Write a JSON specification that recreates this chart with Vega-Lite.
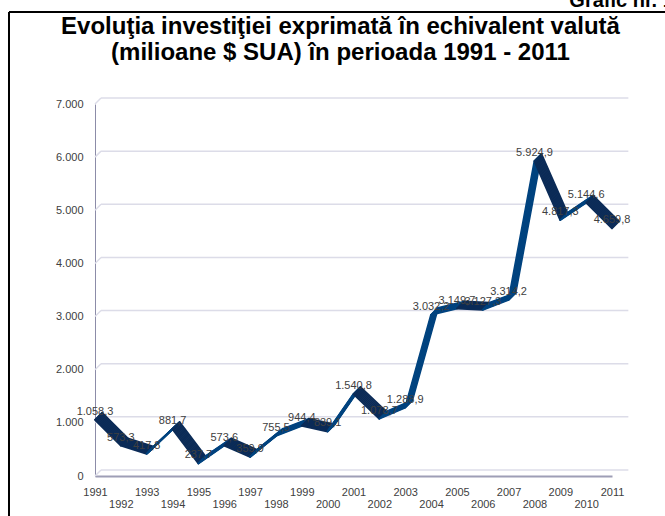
{
  "$schema": "https://vega.github.io/schema/vega-lite/v6.json",
  "width": 517,
  "height": 372,
  "autosize": "none",
  "padding": {"left": 95, "top": 104, "right": 53, "bottom": 40},
  "background": "white",
  "config": {
    "locale": {"number": {"decimal": ",", "thousands": ".", "grouping": [3], "currency": ["", " $"]}},
    "view": {"stroke": null},
    "font": "Liberation Sans"
  },
  "title": {
    "text": ["Evoluţia investiţiei exprimată în echivalent valută", "(milioane $ SUA) în perioada 1991 - 2011"],
    "anchor": "middle",
    "frame": "group",
    "orient": "top",
    "offset": -74,
    "dx": -13,
    "baseline": "top",
    "font": "Liberation Sans",
    "fontSize": 24,
    "fontWeight": "bold",
    "color": "#000000",
    "lineHeight": 26
  },
  "datasets": {
    "inv": [
      {"year": 1991, "value": 1058.3},
      {"year": 1992, "value": 573.3},
      {"year": 1993, "value": 417.8},
      {"year": 1994, "value": 881.7},
      {"year": 1995, "value": 237.7},
      {"year": 1996, "value": 573.6},
      {"year": 1997, "value": 359.9},
      {"year": 1998, "value": 755.5},
      {"year": 1999, "value": 944.4},
      {"year": 2000, "value": 839.1},
      {"year": 2001, "value": 1540.8},
      {"year": 2002, "value": 1078.7},
      {"year": 2003, "value": 1288.9},
      {"year": 2004, "value": 3032.2},
      {"year": 2005, "value": 3149.7},
      {"year": 2006, "value": 3127.3},
      {"year": 2007, "value": 3314.2},
      {"year": 2008, "value": 5924.9},
      {"year": 2009, "value": 4817.3},
      {"year": 2010, "value": 5144.6},
      {"year": 2011, "value": 4659.8}
    ],
    "grid": [
      {"value": 0}, {"value": 1000}, {"value": 2000}, {"value": 3000},
      {"value": 4000}, {"value": 5000}, {"value": 6000}, {"value": 7000}
    ]
  },
  "resolve": {"axis": {"x": "independent"}},
  "layer": [
    {
      "layer": [
        {
          "data": {"name": "grid"},
          "mark": {"type": "rule", "color": "#dcdce8", "strokeWidth": 1.5, "xOffset": 6, "yOffset": -6, "x2Offset": 6, "y2Offset": -6},
          "encoding": {
            "y": {"field": "value", "type": "quantitative"},
            "x": {"datum": 1991, "type": "quantitative"},
            "x2": {"datum": 2011.4}
          }
        },
        {
          "data": {"name": "grid"},
          "mark": {"type": "rule", "color": "#dcdce8", "strokeWidth": 1.5, "x2Offset": 6, "y2Offset": -6},
          "encoding": {
            "y": {"field": "value", "type": "quantitative"},
            "y2": {"field": "value"},
            "x": {"datum": 1991, "type": "quantitative"},
            "x2": {"datum": 1991}
          }
        },
        {
          "data": {"values": [{"part": "frame"}]},
          "mark": {"type": "rule", "color": "#000000", "strokeWidth": 2},
          "encoding": {
            "x": {"datum": 1987.673, "type": "quantitative"},
            "y": {"datum": 8731.2, "type": "quantitative"},
            "y2": {"datum": -1016}
          }
        },
        {
          "data": {"values": [{"part": "frame"}]},
          "mark": {"type": "rule", "color": "#000000", "strokeWidth": 2},
          "encoding": {
            "x": {"datum": 1987.673, "type": "quantitative"},
            "x2": {"datum": 2013.63},
            "y": {"datum": 8731.2, "type": "quantitative"}
          }
        },
        {
          "data": {"name": "inv"},
          "transform": [
            {"window": [{"op": "lead", "field": "year", "as": "year2"}, {"op": "lead", "field": "value", "as": "value2"}], "sort": [{"field": "year", "order": "ascending"}]},
            {"filter": "datum.year2 != null"}
          ],
          "encoding": {
            "x": {"field": "year", "type": "quantitative"},
            "x2": {"field": "year2"},
            "y": {"field": "value", "type": "quantitative"},
            "y2": {"field": "value2"},
            "color": {"condition": {"test": "datum.value2 < datum.value", "value": "#0b2b57"}, "value": "#00437f"}
          },
          "layer": [
            {"mark": {"type": "rule", "strokeWidth": 2, "strokeCap": "round", "xOffset": 7, "yOffset": -7, "x2Offset": 7, "y2Offset": -7}},
            {"mark": {"type": "rule", "strokeWidth": 2, "strokeCap": "round", "xOffset": 6, "yOffset": -6, "x2Offset": 6, "y2Offset": -6}},
            {"mark": {"type": "rule", "strokeWidth": 2, "strokeCap": "round", "xOffset": 5, "yOffset": -5, "x2Offset": 5, "y2Offset": -5}},
            {"mark": {"type": "rule", "strokeWidth": 2, "strokeCap": "round", "xOffset": 4, "yOffset": -4, "x2Offset": 4, "y2Offset": -4}},
            {"mark": {"type": "rule", "strokeWidth": 2, "strokeCap": "round", "xOffset": 3, "yOffset": -3, "x2Offset": 3, "y2Offset": -3}},
            {"mark": {"type": "rule", "strokeWidth": 2, "strokeCap": "round", "xOffset": 2, "yOffset": -2, "x2Offset": 2, "y2Offset": -2}},
            {"mark": {"type": "rule", "strokeWidth": 2, "strokeCap": "round", "xOffset": 1, "yOffset": -1, "x2Offset": 1, "y2Offset": -1}},
            {"mark": {"type": "rule", "strokeWidth": 2, "strokeCap": "round"}}
          ]
        },
        {
          "data": {"name": "inv"},
          "mark": {"type": "text", "dy": -8, "fontSize": 11, "color": "#404040", "font": "Liberation Sans"},
          "encoding": {
            "x": {
              "field": "year", "type": "quantitative",
              "scale": {"domain": [1991, 2011], "nice": false, "zero": false},
              "axis": {
                "title": null,
                "orient": "bottom",
                "values": [1991, 1993, 1995, 1997, 1999, 2001, 2003, 2005, 2007, 2009, 2011],
                "format": "d",
                "labelFontSize": 11,
                "labelColor": "#404040",
                "labelPadding": 10,
                "labelOverlap": false,
                "labelFlush": false,
                "ticks": false,
                "grid": false,
                "domainColor": "#9e9eb6",
                "domainWidth": 2
              }
            },
            "y": {
              "field": "value", "type": "quantitative",
              "scale": {"domain": [0, 7000]},
              "axis": {
                "title": null,
                "values": [0, 1000, 2000, 3000, 4000, 5000, 6000, 7000],
                "format": ",d",
                "labelFontSize": 11,
                "labelColor": "#404040",
                "labelPadding": 12,
                "ticks": false,
                "grid": false,
                "domainColor": "#8c8ca8",
                "domainWidth": 1
              }
            },
            "text": {"field": "value", "type": "quantitative", "format": ",.1f"}
          }
        },
        {
          "data": {"values": [{"t": "Grafic nr. 1"}]},
          "mark": {"type": "text", "align": "left", "baseline": "alphabetic", "fontSize": 20, "fontWeight": "bold", "color": "#000000", "font": "Liberation Sans"},
          "encoding": {
            "x": {"datum": 2009.35, "type": "quantitative"},
            "y": {"datum": 8825, "type": "quantitative"},
            "text": {"field": "t"}
          }
        }
      ]
    },
    {
      "data": {"name": "inv"},
      "mark": {"type": "point", "opacity": 0, "size": 0},
      "encoding": {
        "x": {
          "field": "year", "type": "quantitative",
          "axis": {
            "title": null,
            "orient": "bottom",
            "values": [1992, 1994, 1996, 1998, 2000, 2002, 2004, 2006, 2008, 2010],
            "format": "d",
            "labelFontSize": 11,
            "labelColor": "#404040",
            "labelPadding": 22,
            "labelOverlap": false,
            "labelFlush": false,
            "ticks": false,
            "grid": false,
            "domain": false
          }
        }
      }
    }
  ]
}
